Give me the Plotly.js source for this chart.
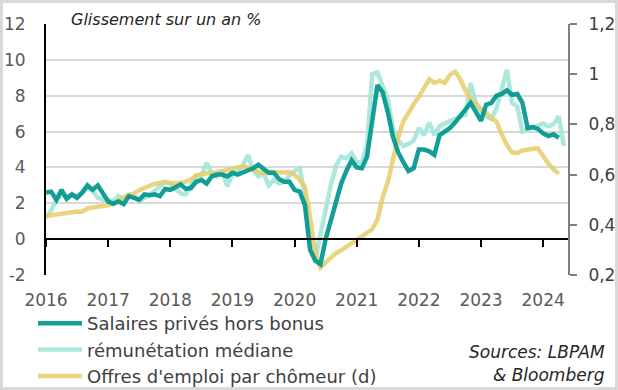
<!DOCTYPE html>
<html><head><meta charset="utf-8">
<script src="https://cdn.plot.ly/plotly-3.0.1.min.js"></script>
<style>
html,body{margin:0;padding:0;background:#fff}
#wrap{position:relative;width:618px;height:390px}
#chart{width:618px;height:390px}
#frame{position:absolute;left:0;top:0;width:618px;height:390px;box-sizing:border-box;border:3px solid #d9d9d9;pointer-events:none}
</style>
</head><body><div id="wrap"><div id="chart"></div><div id="frame"></div></div>
<script>
// monthly data, Jan 2016 onwards (index = months since Jan 2016)
var salaires = [2.6,2.65,2.2,2.75,2.25,2.5,2.3,2.6,3.0,2.75,3.0,2.6,2.1,1.97,2.1,1.95,2.4,2.3,2.2,2.5,
  2.45,2.5,2.4,2.8,2.75,2.9,3.05,2.8,2.85,3.2,3.3,3.1,3.5,3.6,3.6,3.5,3.7,3.6,3.7,3.8,
  3.95,4.15,3.9,3.7,3.7,3.35,3.2,3.2,2.75,2.65,1.9,-0.6,-1.2,-1.4,0.0,1.1,2.2,3.1,3.8,4.4,
  4.0,3.95,4.6,6.7,8.6,8.2,7.1,5.7,4.85,4.3,3.8,3.95,5.0,5.0,4.9,4.7,5.8,6.0,6.2,6.5,
  6.85,7.2,7.6,7.1,6.6,7.5,7.6,8.0,8.1,8.3,8.05,8.1,7.6,6.2,6.25,6.15,5.9,5.75,5.85,5.65];
var mediane = [1.2,1.6,2.2,2.45,2.4,2.4,2.45,2.6,2.85,2.7,2.3,2.2,2.2,2.1,2.4,2.25,2.4,2.4,2.1,2.3,
  2.45,2.7,2.95,3.2,3.1,2.8,2.55,2.5,3.0,3.55,3.55,4.25,3.7,3.5,3.85,2.95,3.6,3.8,4.1,4.7,
  3.85,3.5,3.7,3.0,3.3,3.1,3.2,3.55,3.8,3.95,2.4,-0.3,-1.1,0.3,1.9,3.0,4.1,4.6,4.5,4.8,
  4.3,4.25,5.3,9.2,9.3,8.6,7.8,6.2,5.5,5.2,5.3,5.5,6.2,5.8,6.5,5.8,6.3,6.45,6.6,6.75,
  6.85,6.95,8.7,7.6,7.1,6.85,6.7,7.3,8.35,9.45,7.6,7.4,6.0,6.1,6.25,6.35,6.45,6.3,6.4,6.85,5.2];
var offres = [0.435,0.438,0.441,0.444,0.447,0.451,0.453,0.452,0.465,0.469,0.471,0.473,0.478,0.484,0.494,0.508,0.52,0.524,0.538,0.548,
  0.555,0.563,0.568,0.571,0.567,0.565,0.567,0.572,0.58,0.597,0.603,0.605,0.606,0.612,0.614,0.618,0.624,0.628,0.631,0.629,
  0.625,0.61,0.606,0.611,0.61,0.606,0.608,0.61,0.598,0.58,0.55,0.43,0.29,0.23,0.25,0.272,0.287,0.298,0.312,0.326,
  0.34,0.35,0.365,0.382,0.42,0.51,0.57,0.655,0.748,0.812,0.85,0.88,0.91,0.946,0.98,0.965,0.974,0.966,0.997,1.01,
  0.98,0.935,0.9,0.88,0.862,0.845,0.828,0.81,0.76,0.718,0.688,0.686,0.696,0.701,0.703,0.705,0.672,0.644,0.622,0.603];
var years = ['2016','2017','2018','2019','2020','2021','2022','2023','2024'];
var leftTicks = [-2,0,2,4,6,8,10,12];
var leftTickText = ['-2','0','2','4','6','8','10','12'];
var rightTicks = [0.2,0.4,0.6,0.8,1.0,1.2];
var names = ['Salaires privés hors bonus','rémunétation médiane',"Offres d'emploi par chômeur (d)"];

function idx(arr){ return arr.map(function(_,i){ return i; }); }
var yearTickVals = years.map(function(_,i){ return i*12; });

var FONT = 'DejaVu Sans, sans-serif';
var traces = [
  {x: idx(mediane), y: mediane, xaxis:'x', yaxis:'y', name: names[1], type:'scatter', mode:'lines',
   line:{color:'rgba(160,229,214,0.88)', width:4.5}, legendrank:2, legendgroup:'b'},
  {x: idx(offres), y: offres, xaxis:'x', yaxis:'y2', name: names[2], type:'scatter', mode:'lines',
   line:{color:'rgba(232,204,104,0.85)', width:4.5}, legendrank:3, legendgroup:'c'},
  {x: idx(salaires), y: salaires, xaxis:'x2', yaxis:'y', name: names[0], type:'scatter', mode:'lines',
   line:{color:'rgba(0,150,143,0.92)', width:4.5}, legendrank:1, legendgroup:'a'}
];
var layout = {
  width:618, height:390,
  margin:{l:46, r:50, t:24, b:115, pad:0, autoexpand:false},
  paper_bgcolor:'#fff', plot_bgcolor:'#fff',
  separators:', ',
  font:{family:FONT, size:16, color:'#595959'},
  showlegend:true,
  legend:{xref:'container', yref:'container', x:33/618, xanchor:'left', y:(390-305)/390, yanchor:'top',
    font:{family:FONT, size:18, color:'#404040'}, traceorder:'grouped', tracegroupgap:0,
    bgcolor:'rgba(0,0,0,0)', itemwidth:44},
  xaxis:{range:[0,100.8], anchor:'free', position:2/14, showline:true, linecolor:'#000', linewidth:2,
    ticks:'outside', ticklen:7, tickwidth:2, tickcolor:'#000', tickmode:'array', tickvals:yearTickVals,
    showticklabels:false, showgrid:false, zeroline:false},
  xaxis2:{range:[0,100.8], matches:'x', overlaying:'x', anchor:'y', side:'bottom', tickmode:'array',
    tickvals:yearTickVals, ticktext:years, showline:false, showgrid:false, zeroline:false, ticks:'',
    tickangle:0, ticklabelstandoff:13, tickfont:{family:FONT, size:17, color:'#595959'}},
  yaxis:{range:[-2,12], tickmode:'array', tickvals:leftTicks, ticktext:leftTickText, showgrid:true,
    gridcolor:'#d9d9d9', gridwidth:2, showline:true, linecolor:'#000', linewidth:2, zeroline:false,
    ticks:'', ticklabelstandoff:15, tickfont:{family:FONT, size:17, color:'#595959'}},
  yaxis2:{range:[0.2,1.2], overlaying:'y', side:'right', tickmode:'array', tickvals:rightTicks,
    showgrid:false, showline:true, linecolor:'#7f7f7f', linewidth:2, ticks:'outside', ticklen:7,
    tickwidth:2, tickcolor:'#7f7f7f', zeroline:false, ticklabelstandoff:8,
    tickfont:{family:FONT, size:17, color:'#404040'}},
  annotations:[
    {text:'Glissement sur un an %', xref:'paper', yref:'paper', x:23/522, y:(275-19)/251,
     xanchor:'left', yanchor:'middle', showarrow:false, font:{family:FONT, size:16, color:'#262626', style:'italic'}},
    {text:'Sources: LBPAM', xref:'paper', yref:'paper', x:(607-46)/522, y:(275-352)/251,
     xanchor:'right', yanchor:'middle', showarrow:false, font:{family:FONT, size:17, color:'#262626', style:'italic'}},
    {text:'& Bloomberg', xref:'paper', yref:'paper', x:(607-46)/522, y:(275-375)/251,
     xanchor:'right', yanchor:'middle', showarrow:false, font:{family:FONT, size:17, color:'#262626', style:'italic'}}
  ]
};
Plotly.newPlot('chart', traces, layout, {displayModeBar:false, staticPlot:true});
</script></body></html>
